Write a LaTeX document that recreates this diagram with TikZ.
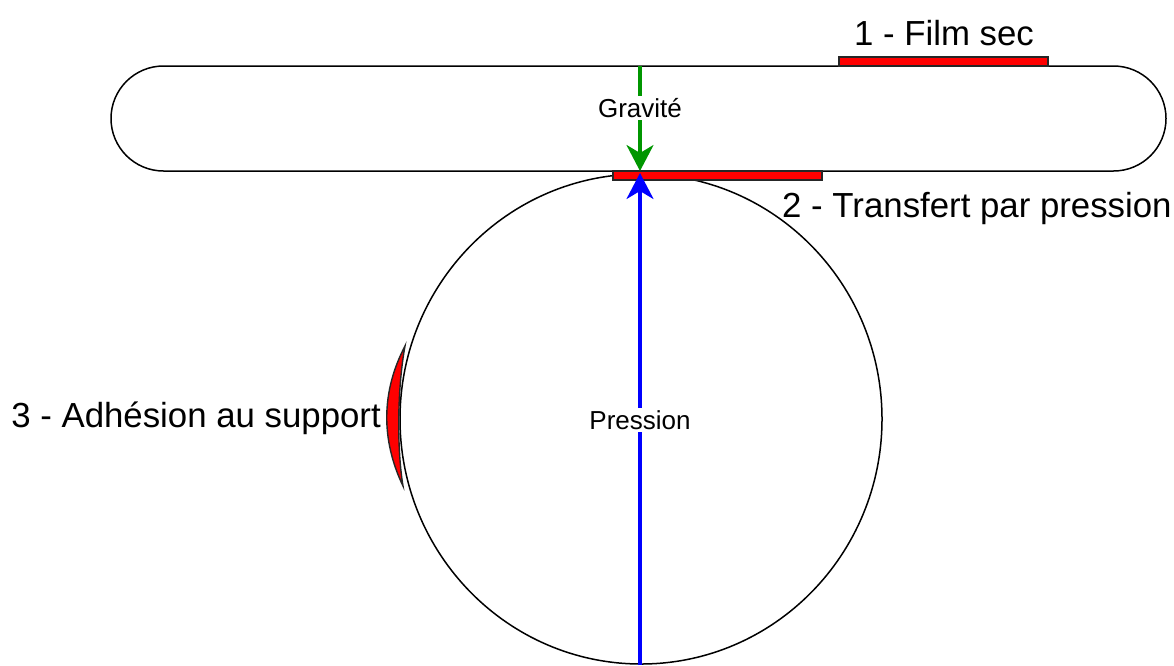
\documentclass[tikz,border=0pt]{standalone}
\usepackage{fontspec}
\setmainfont{Liberation Sans}
\usetikzlibrary{shapes.misc,shapes.geometric,arrows.meta}
\definecolor{fgreen}{RGB}{0,150,0}
\definecolor{fblue}{RGB}{0,0,255}
\definecolor{fred}{RGB}{255,0,0}
\tikzset{
  outline/.style={draw=black,line width=1.5pt,fill=white},
  film/.style={draw=black!85,line width=1.4pt,fill=fred},
  force/.style={line width=3.2pt,-{Stealth[length=26pt,width=27pt,inset=8pt]}},
  biglbl/.style={font=\fontsize{34.8}{42}\selectfont,inner sep=0pt},
  smalllbl/.style={font=\fontsize{26}{31}\selectfont,fill=white,inner sep=2pt},
}
\begin{document}
\begin{tikzpicture}[x=1pt,y=-1pt]
\useasboundingbox[fill=white] (0,0) rectangle (1174,665);
% bar
\node[outline,rounded rectangle,minimum width=1055pt,minimum height=105pt,inner sep=0pt] (bar) at (638.5,118.5) {};
% film on top
\draw[film] (839,57) rectangle (1048,66);
% roller
\node[draw=black,line width=1.5pt,ellipse,minimum width=482pt,minimum height=490pt,inner sep=0pt] (roller) at (641,419) {};
% transferred film
\draw[film] (613,171) rectangle (822,180);
% adhesion film
\draw[film] (405,346) .. controls (381,392) and (381,440) .. (403,486)
  .. controls (397,450) and (397,390) .. (405,346) -- cycle;
% forces
\coordinate (gtop) at (640,66);
\coordinate (gtip) at (640,171);
\coordinate (pbot) at (640,665);
\coordinate (ptip) at (640,173);
\draw[force,fgreen] (gtop) -- (gtip);
\draw[force,fblue] (pbot) -- (ptip);
\node[smalllbl] (grav) at (640,108) {Gravité};
\node[smalllbl] (press) at (640,420) {Pression};
% labels
\node[biglbl] (l1) at (944,33) {1 - Film sec};
\node[biglbl,anchor=west] (l2) at (782,208) {2 - Transfert par pression};
\node[biglbl,anchor=east] (l3) at (381,418) {3 - Adhésion au support};
\end{tikzpicture}
\end{document}
